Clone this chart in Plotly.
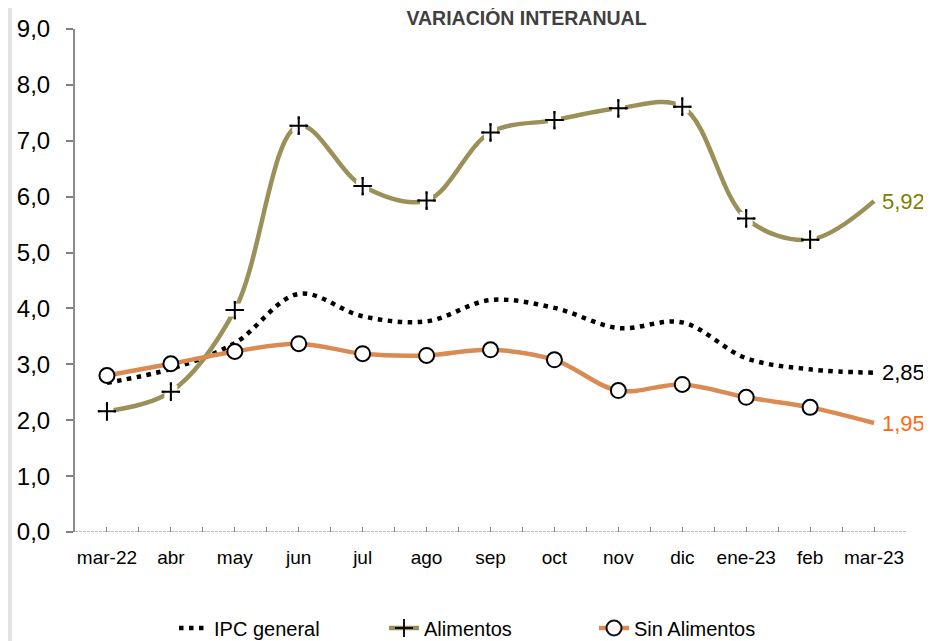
import plotly.graph_objects as go

categories = ["mar-22", "abr", "may", "jun", "jul", "ago", "sep", "oct", "nov", "dic", "ene-23", "feb", "mar-23"]
ipc_general = [2.67, 2.92, 3.38, 4.26, 3.86, 3.77, 4.15, 4.01, 3.65, 3.75, 3.11, 2.91, 2.85]
alimentos = [2.16, 2.51, 3.97, 7.27, 6.19, 5.93, 7.15, 7.37, 7.58, 7.61, 5.61, 5.23, 5.92]
sin_alimentos = [2.80, 3.01, 3.23, 3.37, 3.19, 3.16, 3.26, 3.08, 2.53, 2.64, 2.41, 2.23, 1.95]
y_ticks = [0, 1, 2, 3, 4, 5, 6, 7, 8, 9]

FONT = "Liberation Sans, Arial, sans-serif"
OLIVE = "#9A9058"
ORANGE = "#DA8B54"

# page is rendered with an 8px body margin
OFF = 8
W, H = 931 - OFF, 641 - OFF
PL, PR, PT, PB = 75 - OFF, 906 - OFF, 29 - OFF, 532 - OFF  # plot area in figure pixels

x = list(range(len(categories)))
n = len(categories)
# the last point (labelled with its value) carries no marker
marker_alpha = [1] * (n - 1) + [0]

fig = go.Figure()

fig.add_trace(go.Scatter(
    x=x, y=ipc_general, name="IPC general", mode="lines",
    line=dict(color="black", width=4.5, dash="4.5px,5.5px", shape="spline", smoothing=1.0),
))

fig.add_trace(go.Scatter(
    x=x, y=alimentos, name="Alimentos", mode="lines+markers",
    line=dict(color=OLIVE, width=4.5, shape="spline", smoothing=1.0),
    marker=dict(symbol="cross-thin", size=13, opacity=marker_alpha, color="black",
                line=dict(color="black", width=2)),
))
fig.add_trace(go.Scatter(
    x=x[:-1], y=alimentos[:-1], mode="markers", showlegend=False, hoverinfo="skip",
    marker=dict(symbol="square", size=13, color="white", line=dict(width=0)),
))
fig.add_trace(go.Scatter(
    x=x[:-1], y=alimentos[:-1], mode="markers", showlegend=False, hoverinfo="skip",
    marker=dict(symbol="cross-thin", size=13, color="black", line=dict(color="black", width=2)),
))

fig.add_trace(go.Scatter(
    x=x, y=sin_alimentos, name="Sin Alimentos", mode="lines+markers",
    line=dict(color=ORANGE, width=4.5, shape="spline", smoothing=1.0),
    marker=dict(symbol="circle", size=15, opacity=marker_alpha, color="white",
                line=dict(color="black", width=2)),
))

# end-value labels
end_series = [(alimentos, "#808000"), (ipc_general, "black"), (sin_alimentos, "#FF6A10")]
for series, col in end_series:
    v = series[-1]
    fig.add_annotation(
        x=x[-1], y=v, xref="x", yref="y",
        text=f"{v:.2f}".replace(".", ","), showarrow=False,
        xanchor="left", yanchor="middle", xshift=6,
        font=dict(family=FONT, size=22, color=col),
    )

# left decorative strip
pw = PR - PL
fig.add_shape(type="rect", xref="paper", yref="paper",
              x0=(0 - PL) / pw, x1=(4 - PL) / pw, y0=-0.3, y1=1.1,
              fillcolor="#e2e2e2", line=dict(width=0), layer="below")

# x axis baseline (dashed look)
fig.add_shape(type="line", xref="paper", yref="y", x0=0, x1=1, y0=0, y1=0,
              line=dict(color="#808080", width=1, dash="3px,1px"))

fig.update_layout(
    width=W, height=H,
    margin=dict(l=PL, r=W - PR, t=PT, b=H - PB, autoexpand=False),
    paper_bgcolor="white", plot_bgcolor="white",
    separators=",.",
    font=dict(family=FONT, size=20, color="black"),
    title=dict(text="<b>VARIACIÓN INTERANUAL</b>", x=(526.5 - OFF) / W, xref="container", xanchor="center",
               y=1 - (18 - OFF) / H, yref="container", yanchor="middle",
               font=dict(family=FONT, size=19.5, color="#404040")),
    showlegend=True,
    legend=dict(orientation="h", xref="container", x=(174 - OFF) / W, xanchor="left",
                yref="container", y=1 - (628 - OFF) / H, yanchor="middle",
                font=dict(family=FONT, size=20, color="black"), bgcolor="rgba(0,0,0,0)",
                itemwidth=30, entrywidth=165, entrywidthmode="pixels"),
    xaxis=dict(
        range=[-0.5, n - 0.5], tickmode="array", tickvals=x, ticktext=categories,
        ticks="inside", ticklen=5, tickcolor="#808080", tickwidth=1,
        minor=dict(tickmode="array", tickvals=[i - 0.5 for i in range(n + 1)],
                   ticks="inside", ticklen=5, tickcolor="#808080", tickwidth=1),
        showline=False, showgrid=False, zeroline=False, automargin=False,
        tickfont=dict(family=FONT, size=19, color="black"), ticklabelstandoff=12,
    ),
    yaxis=dict(
        range=[0, 9], tickmode="array", tickvals=y_ticks, tickformat=".1f",
        ticks="outside", ticklen=7, tickcolor="#808080", tickwidth=1.5,
        showline=True, linecolor="#8c8c8c", linewidth=2,
        showgrid=False, zeroline=False, automargin=False,
        tickfont=dict(family=FONT, size=24, color="black"), ticklabelstandoff=11,
    ),
)

fig.write_html("out.html")
